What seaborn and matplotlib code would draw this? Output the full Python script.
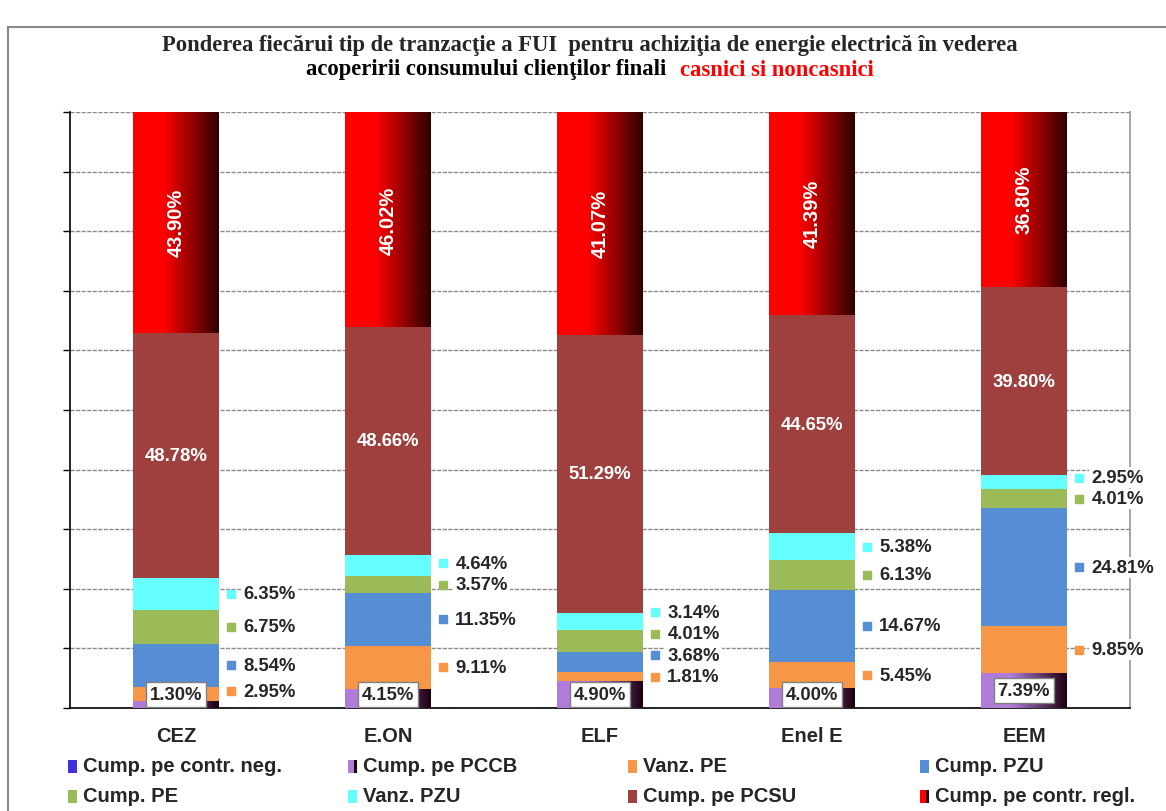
import numpy as np
import pandas as pd
import seaborn as sns
import matplotlib.pyplot as plt
from matplotlib.colors import LinearSegmentedColormap
from matplotlib.patches import Rectangle

# ---------------------------------------------------------------
# data (values shown on the labels, bars are drawn as 100 % stacked)
# ---------------------------------------------------------------
companies = ['CEZ', 'E.ON', 'ELF', 'Enel E', 'EEM']
contr_neg = [0.0, 0.0, 0.0, 0.0, 0.0]
pccb = [1.30, 4.15, 4.90, 4.00, 7.39]
vanz_pe = [2.95, 9.11, 1.81, 5.45, 9.85]
cump_pzu = [8.54, 11.35, 3.68, 14.67, 24.81]
cump_pe = [6.75, 3.57, 4.01, 6.13, 4.01]
vanz_pzu = [6.35, 4.64, 3.14, 5.38, 2.95]
pcsu = [48.78, 48.66, 51.29, 44.65, 39.80]
contr_regl = [43.90, 46.02, 41.07, 41.39, 36.80]

series_names = ['Cump. pe contr. neg.', 'Cump. pe PCCB', 'Vanz. PE', 'Cump. PZU',
                'Cump. PE', 'Vanz. PZU', 'Cump. pe PCSU', 'Cump. pe contr. regl.']
series_values = [contr_neg, pccb, vanz_pe, cump_pzu, cump_pe, vanz_pzu, pcsu, contr_regl]
colors = ['#3F30DA', '#B07CD8', '#F79646', '#558ED5', '#9BBB59', '#66FFFF', '#9E413E', '#FF0000']
dark_ends = {1: '#1E0010', 7: '#300000'}

W, H = 1166, 812
FONT = 'Liberation Sans'

df = pd.DataFrame(dict(zip(series_names, series_values)), index=companies)
share = df.div(df.sum(axis=1), axis=0) * 100

sns.set_theme(style='white')
plt.rcParams['font.family'] = [FONT, 'DejaVu Sans']

fig = plt.figure(figsize=(W / 100, H / 100), dpi=100)
ax = fig.add_axes([70 / W, 1 - 709 / H, (1130 - 70) / W, (709 - 113) / H])

bar_w = 0.405
bottom = np.zeros(len(companies))
for i, name in enumerate(series_names):
    vals = share[name].to_numpy()
    sns.barplot(x=companies, y=vals, bottom=bottom, color=colors[i], width=bar_w,
                saturation=1, linewidth=0, ax=ax, zorder=2)
    if i in dark_ends:
        cmap = LinearSegmentedColormap.from_list(
            'g', [(0, colors[i]), (0.35, colors[i]), (1, dark_ends[i])])
        grad = np.linspace(0, 1, 64).reshape(1, -1)
        for patch in ax.containers[-1]:
            x0, y0 = patch.get_x(), patch.get_y()
            w, h = patch.get_width(), patch.get_height()
            if h <= 0:
                continue
            im = ax.imshow(grad, extent=[x0, x0 + w, y0, y0 + h], aspect='auto',
                           cmap=cmap, zorder=3, interpolation='bilinear')
            im.set_clip_path(patch)
    bottom = bottom + vals

ax.set_xlim(-0.5, len(companies) - 0.5)
ax.set_ylim(0, 100)

# ---- labels ----
lab_kw = dict(fontsize=13.3, fontweight='bold', family=FONT)
big_kw = dict(fontsize=14.5, fontweight='bold', family=FONT)
cum = share.cumsum(axis=1)
for j, comp in enumerate(companies):
    right = j + bar_w / 2
    # PCCB label in a framed box
    c = cum.loc[comp, 'Cump. pe PCCB'] - share.loc[comp, 'Cump. pe PCCB'] / 2
    ax.text(j, max(c, 2.3), f"{pccb[j]:.2f}%", ha='center', va='center', zorder=6,
            bbox=dict(boxstyle='square,pad=0.22', fc='white', ec='#808080', lw=1), **lab_kw)
    # outside labels with legend key
    prev = -10
    for i in range(2, 6):
        name = series_names[i]
        c = cum.loc[comp, name] - share.loc[comp, name] / 2
        y = max(c, prev + 3.6, 2.8)
        prev = y
        ax.plot(right + 0.057, y, marker='s', ms=5.5, color=colors[i], ls='none',
                zorder=6, clip_on=False)
        ax.text(right + 0.115, y, f"{series_values[i][j]:.2f}%", ha='left', va='center',
                zorder=5, bbox=dict(boxstyle='square,pad=0.1', fc='white', ec='none'),
                **lab_kw)
    # inside labels
    c = cum.loc[comp, 'Cump. pe PCSU'] - share.loc[comp, 'Cump. pe PCSU'] / 2
    ax.text(j, c, f"{pcsu[j]:.2f}%", ha='center', va='center', color='white',
            zorder=6, **lab_kw)
    c = cum.loc[comp, 'Cump. pe contr. regl.'] - share.loc[comp, 'Cump. pe contr. regl.'] / 2
    ax.text(j, c, f"{contr_regl[j]:.2f}%", ha='center', va='center', color='white',
            rotation=90, zorder=6, **big_kw)

# ---- axes styling ----
ax.set_yticks(np.arange(0, 101, 10))
ax.set_yticklabels([])
ax.yaxis.grid(True, color='#8A8A8A', lw=1, ls=(0, (3, 1)))
ax.set_axisbelow(True)
ax.set_xticks(range(len(companies)))
ax.set_xticklabels(companies, **big_kw)
ax.set_xticks(np.arange(-0.5, len(companies)), minor=True)
ax.tick_params(axis='x', which='major', length=0, pad=13)
ax.tick_params(axis='x', which='minor', length=6, width=1, color='black', direction='out')
ax.tick_params(axis='y', length=5, width=1, color='black', direction='out', left=True)
for s in ['left', 'bottom']:
    ax.spines[s].set_color('black')
    ax.spines[s].set_linewidth(1.2)
ax.spines['top'].set_visible(False)
ax.spines['right'].set_color('#9A9A9A')
ax.set_xlabel('')

# ---- outer chart border ----
fig.patches.append(Rectangle((8 / W, -0.1), 1.2, 1 - 28 / H + 0.1, transform=fig.transFigure,
                             fill=False, ec='#8A8A8A', lw=1.5))

# ---- title ----
tkw = dict(fontsize=16.3, fontweight='bold', family='Liberation Serif', va='center')
fig.text(590 / W, 1 - 45 / H,
         'Ponderea fiecărui tip de tranzacţie a FUI  pentru achiziţia de energie electrică în vederea',
         ha='center', **tkw)
renderer = fig.canvas.get_renderer()
t1 = fig.text(0, 1 - 70 / H, 'acoperirii consumului clienţilor finali', ha='left', color='black', **tkw)
t2 = fig.text(0, 1 - 70 / H, 'casnici si noncasnici', ha='left', color='#FF0000', **tkw)
w1 = t1.get_window_extent(renderer).width
w2 = t2.get_window_extent(renderer).width
gap = 14
start = 590 - (w1 + gap + w2) / 2
t1.set_x(start / W)
t2.set_x((start + w1 + gap) / W)

# ---- legend (4 columns, row-major like the original) ----
col_x = [68, 348, 628, 920]
row_y = [767, 797]
for k, name in enumerate(series_names):
    x = col_x[k % 4]
    y = row_y[k // 4]
    if k in dark_ends:
        fig.patches.append(Rectangle((x / W, 1 - (y + 6.5) / H), 6 / W, 13 / H,
                                     transform=fig.transFigure, fc=colors[k], ec='none'))
        fig.patches.append(Rectangle(((x + 6) / W, 1 - (y + 6.5) / H), 3 / W, 13 / H,
                                     transform=fig.transFigure, fc=dark_ends[k], ec='none'))
    else:
        fig.patches.append(Rectangle((x / W, 1 - (y + 6.5) / H), 9 / W, 13 / H,
                                     transform=fig.transFigure, fc=colors[k], ec='none'))
    fig.text((x + 15) / W, 1 - y / H, name, ha='left', va='center', **big_kw)

fig.savefig('out.png', dpi=100)
